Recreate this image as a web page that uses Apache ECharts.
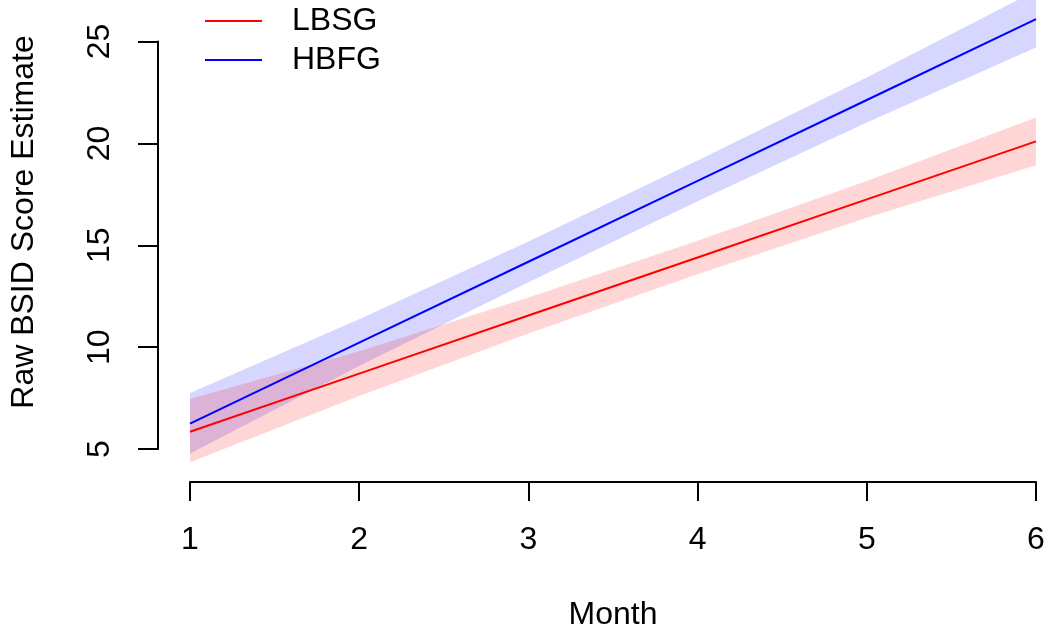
<!DOCTYPE html>
<html>
<head>
<meta charset="utf-8">
<script src="https://cdn.jsdelivr.net/npm/echarts@6/dist/echarts.min.js"></script>
<style>
  html, body { margin: 0; padding: 0; background: #ffffff; overflow: hidden; }
  #chart { width: 1048px; height: 631px; }
</style>
</head>
<body>
<div id="chart"></div>
<script>
// Month of assessment
const months = [1, 2, 3, 4, 5, 6];
const xTicks = [1, 2, 3, 4, 5, 6];
const yTicks = [5, 10, 15, 20, 25];

// Fitted raw BSID score by group
const lbsgFit = [5.85, 8.70, 11.55, 14.40, 17.25, 20.10];
const hbfgFit = [6.25, 10.22, 14.19, 18.16, 22.13, 26.10];

// Confidence band limits
const lbsgLower = [4.35, 7.60, 10.67, 13.58, 16.35, 18.93];
const lbsgUpper = [7.45, 9.80, 12.43, 15.22, 18.15, 21.27];
const hbfgLower = [4.78, 9.07, 13.19, 17.16, 21.03, 24.70];
const hbfgUpper = [7.75, 11.37, 15.19, 19.16, 23.23, 27.50];

const FONT = '"Liberation Sans", Arial, Helvetica, sans-serif';
const FS = 32;

// Band polygon: upper edge left-to-right, then lower edge right-to-left
function bandSeries(name, lower, upper, fill) {
  return {
    name: name,
    type: 'custom',
    clip: false,
    silent: true,
    z: 1,
    data: months.map((m, i) => [m, lower[i], upper[i]]),
    renderItem: function (params, api) {
      if (params.dataIndex !== 0) return null;
      const pts = [];
      for (let i = 0; i < months.length; i++) pts.push(api.coord([months[i], upper[i]]));
      for (let i = months.length - 1; i >= 0; i--) pts.push(api.coord([months[i], lower[i]]));
      return { type: 'polygon', shape: { points: pts }, style: { fill: fill } };
    }
  };
}

function lineSeries(name, values, color) {
  return {
    name: name,
    type: 'line',
    z: 3,
    clip: false,
    symbol: 'none',
    color: color,
    lineStyle: { color: color, width: 2 },
    data: months.map((m, i) => [m, values[i]])
  };
}

const chart = echarts.init(document.getElementById('chart'), null, { renderer: 'canvas', width: 1048, height: 631 });

chart.setOption({
  animation: false,
  backgroundColor: '#ffffff',
  textStyle: { fontFamily: FONT },
  grid: {
    left: 190, width: 846, top: 41.5, height: 407.5,
    containLabel: false,
    outerBoundsMode: 'none'
  },
  legend: {
    data: ['LBSG', 'HBFG'],
    orient: 'vertical',
    left: 205,
    top: 5,
    padding: 0,
    itemWidth: 57,
    itemHeight: 2,
    itemGap: 7,
    icon: 'rect',
    textStyle: { fontFamily: FONT, fontSize: FS, color: '#000', lineHeight: 32, padding: [0, 0, 0, 25] }
  },
  xAxis: {
    type: 'value',
    min: 1,
    max: 6,
    interval: 1,
    offset: 33,
    splitLine: { show: false },
    axisLine: { show: true, lineStyle: { color: '#000', width: 2 } },
    axisTick: { show: true, length: 19, lineStyle: { color: '#000', width: 2 } },
    axisLabel: {
      margin: 42,
      fontSize: FS,
      color: '#000',
      fontFamily: FONT,
      formatter: v => (xTicks.includes(v) ? String(v) : '')
    },
    name: 'Month',
    nameLocation: 'middle',
    nameGap: 117,
    nameTextStyle: { fontSize: FS, color: '#000', fontFamily: FONT }
  },
  yAxis: {
    type: 'value',
    min: 5,
    max: 25,
    interval: 5,
    offset: 32,
    splitLine: { show: false },
    axisLine: { show: true, lineStyle: { color: '#000', width: 2 } },
    axisTick: { show: true, length: 20, lineStyle: { color: '#000', width: 2 } },
    axisLabel: {
      rotate: 90,
      margin: 42,
      fontSize: FS,
      color: '#000',
      fontFamily: FONT,
      formatter: v => (yTicks.includes(v) ? String(v) : '')
    }
  },
  graphic: [{
    type: 'text',
    rotation: Math.PI / 2,
    x: 24,
    y: 222,
    style: {
      text: 'Raw BSID Score Estimate',
      fontSize: FS,
      fontFamily: FONT,
      fill: '#000',
      align: 'center',
      verticalAlign: 'middle'
    }
  }],
  series: [
    bandSeries('HBFG band', hbfgLower, hbfgUpper, 'rgba(0,0,255,0.16)'),
    bandSeries('LBSG band', lbsgLower, lbsgUpper, 'rgba(255,0,0,0.16)'),
    lineSeries('LBSG', lbsgFit, '#ff0000'),
    lineSeries('HBFG', hbfgFit, '#0000ff')
  ]
});
</script>
</body>
</html>
